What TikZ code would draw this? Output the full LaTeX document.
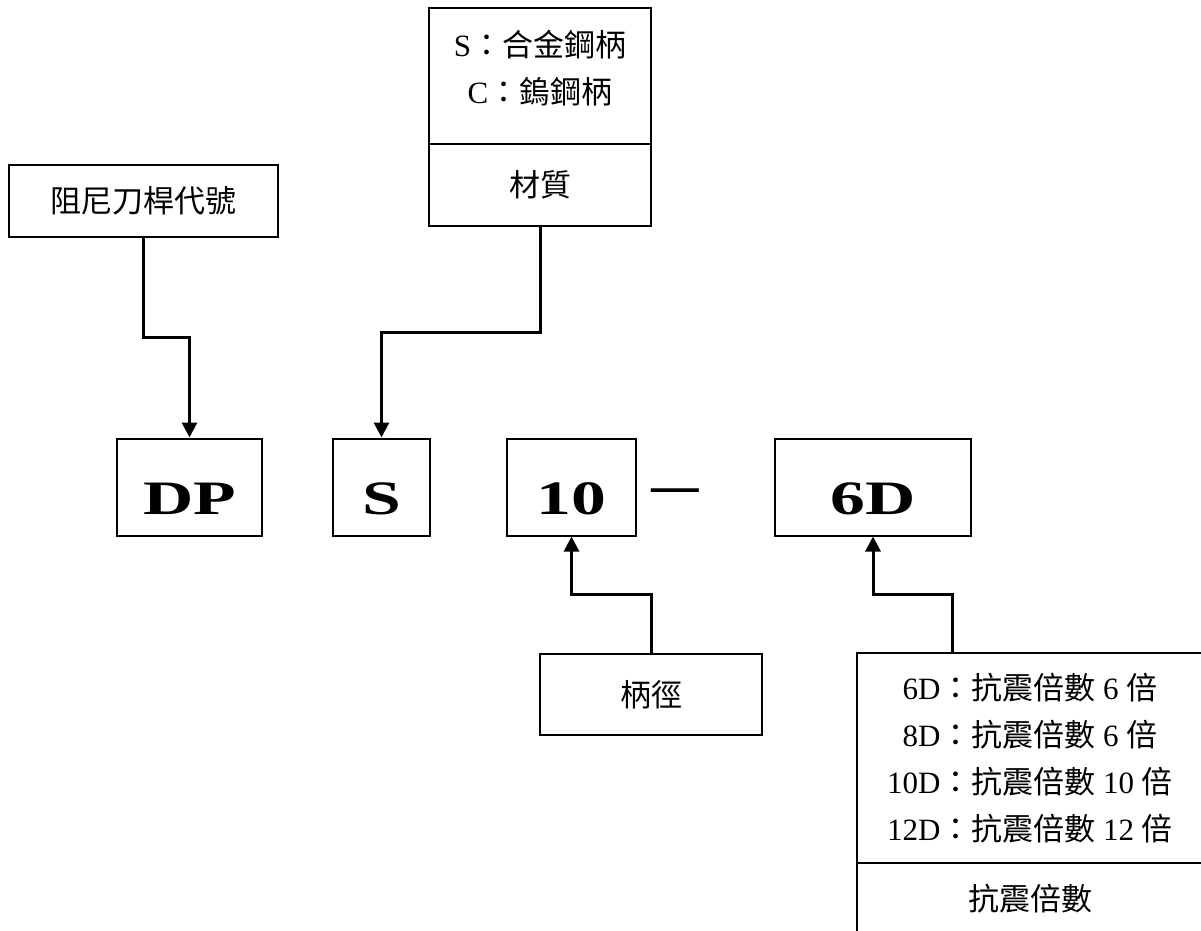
\documentclass[tikz,border=0pt]{standalone}
\usepackage{fontspec}
\setmainfont{Liberation Serif}
\newfontfamily\cjk{Noto Sans CJK TC}
\newfontfamily\codefont{Liberation Serif Bold}[FakeStretch=1.45]
\usetikzlibrary{positioning,arrows.meta,calc}
\newcommand{\zh}[1]{{\cjk #1}}
\tikzset{
  tagbox/.style={draw, line width=2pt, inner sep=0pt,
                 font=\fontsize{31}{38}\selectfont\cjk},
  listtext/.style={align=center, inner sep=0pt,
                   font=\fontsize{31}{47}\selectfont},
  listbox/.style={listtext, draw, line width=2pt},
  codebox/.style={draw, line width=2pt, inner sep=0pt, minimum height=97pt,
                  text height=54pt, text depth=0pt,
                  font=\fontsize{48}{48}\selectfont\codefont},
  linkarrow/.style={line width=3pt, -{Triangle[width=15pt,length=15pt]}},
}

\begin{document}
\begin{tikzpicture}[x=1pt, y=-1pt]
\clip (0,0) rectangle (1201,930);
\def\yCode{487}    % y-position for code row
\def\yTagLow{694.5} % y-position for lower tag

%% Code Nodes
\node[codebox, minimum width=145pt] (dp) at (189.5,\yCode) {DP};
\node[codebox, minimum width=97pt] (mat) at (381.5,\yCode) {S};
\node[codebox, minimum width=129pt] (dia) at (571.5,\yCode) {10};
\node[font=\fontsize{60}{60}\selectfont\cjk] (sep) at (675,498) {—};
\node[codebox, minimum width=196pt] (ratio) at (873,\yCode) {6D};

%% Upper Tags
\node[tagbox, minimum width=269pt, minimum height=72pt] (dpTag) at (143.5,201) {阻尼刀桿代號};
\node[listbox, minimum width=222pt, minimum height=136pt] (matList) at (540,76) {};
\node[listtext] (matItems) at (540,68) {S\zh{：合金鋼柄}\\C\zh{：鎢鋼柄}};
\node[tagbox, minimum width=222pt, minimum height=82pt] (matTag) at (540,185) {材質};

%% Lower Tags
\node[tagbox, minimum width=222pt, minimum height=81pt] (diaTag) at (651,\yTagLow) {柄徑};
\node[listbox, minimum width=346pt, minimum height=210pt] (ratioList) at (1030,758)
  {6D\zh{：抗震倍數} 6 \zh{倍}\\8D\zh{：抗震倍數} 6 \zh{倍}\\
   10D\zh{：抗震倍數} 10 \zh{倍}\\12D\zh{：抗震倍數} 12 \zh{倍}};
\node[tagbox, minimum width=346pt, minimum height=72pt] (ratioTag) at (1030,899) {抗震倍數};

%% Links
\draw[linkarrow] (dpTag.south) |- ($(dpTag.south)!0.5!(dp.north)$) -| (dp.north);
\draw[linkarrow] (matTag.south) |- ($(matTag.south)!0.5!(mat.north)$) -| (mat.north);
\draw[linkarrow] (diaTag.north) |- ($(diaTag.north)!0.5!(dia.south)$) -| (dia.south);
\draw[linkarrow] ([xshift=-78pt]ratioList.north) |- ($(ratioList.north)!0.5!(ratio.south)$) -| (ratio.south);
\end{tikzpicture}
\end{document}
